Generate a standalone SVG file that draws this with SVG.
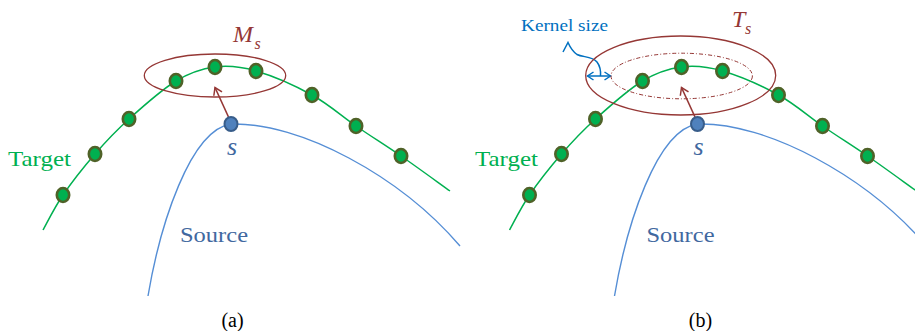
<svg xmlns="http://www.w3.org/2000/svg" width="915" height="331" viewBox="0 0 915 331">
<style>
.tgt{fill:none;stroke:#00b050;stroke-width:1.5}
.src{fill:none;stroke:#558ed5;stroke-width:1.4}
.dot{fill:#00b050;stroke:#4f6228;stroke-width:2.6}
.sdot{fill:#4f81bd;stroke:#385d8a;stroke-width:2}
.ell{fill:none;stroke:#953735;stroke-width:1.3}
.inner{fill:none;stroke:#953735;stroke-width:1;stroke-dasharray:4 2 1 2}
.arr{fill:none;stroke:#953735;stroke-width:1.6}
.serif{font-family:"Liberation Serif","Times New Roman",serif}
.green{fill:#00b050;font-size:21px}
.blue{fill:#41689f}
.red{fill:#953735;font-style:italic}
.cap{fill:#000;font-size:20px}
.kern{fill:none;stroke:#0070c0;stroke-width:1.5}
</style>
<defs>
<marker id="redhead" viewBox="-9 -6 11 12" refX="0" refY="0" markerWidth="11" markerHeight="12" markerUnits="userSpaceOnUse" orient="auto">
<path d="M-7,-4.5 L0,0 L-7,4.5" fill="none" stroke="#953735" stroke-width="1.5"/>
</marker>
<marker id="bluehead" viewBox="-8 -6 10 12" refX="0" refY="0" markerWidth="10" markerHeight="12" markerUnits="userSpaceOnUse" orient="auto-start-reverse">
<path d="M-6,-4 L0,0 L-6,4" fill="none" stroke="#0070c0" stroke-width="1.5"/>
</marker>
</defs>

<!-- Panel (a) -->
<g id="panel-a">
<g id="a-connectors">
<path id="a-target-curve" class="tgt" d="M43,230 C46.3,224.2 54.3,207.7 63,195 C71.7,182.3 84,166.7 95,154 C106,141.3 115.5,131.2 129,119 C142.5,106.8 161.7,89.7 176,81 C190.3,72.3 201.7,68.7 215,67 C228.3,65.3 239.8,66.3 256,71 C272.2,75.7 295.3,85.8 312,95 C328.7,104.2 341.2,115.8 356,126 C370.8,136.2 385.3,145.2 401,156 C416.7,166.8 441.8,185.2 450,191"/>
<path id="a-source-curve" class="src" d="M148,296 C160,225 190,130 231,124 C300,122 400,176 460,246"/>
<line id="a-arrow" class="arr" x1="228.5" y1="117" x2="215" y2="87.5" marker-end="url(#redhead)"/>
</g>
<g id="a-ms-region"><ellipse class="ell" cx="215" cy="75.5" rx="70.7" ry="21.5"/></g>
<g id="a-t1"><ellipse class="dot" cx="63" cy="195" rx="6.2" ry="7"/></g>
<g id="a-t2"><ellipse class="dot" cx="95" cy="154" rx="6.2" ry="7"/></g>
<g id="a-t3"><ellipse class="dot" cx="129" cy="119" rx="6.2" ry="7"/></g>
<g id="a-t4"><ellipse class="dot" cx="176" cy="81" rx="6.2" ry="7"/></g>
<g id="a-t5"><ellipse class="dot" cx="215" cy="67" rx="6.2" ry="7"/></g>
<g id="a-t6"><ellipse class="dot" cx="256" cy="71" rx="6.2" ry="7"/></g>
<g id="a-t7"><ellipse class="dot" cx="312" cy="95" rx="6.2" ry="7"/></g>
<g id="a-t8"><ellipse class="dot" cx="356" cy="126" rx="6.2" ry="7"/></g>
<g id="a-t9"><ellipse class="dot" cx="401" cy="156" rx="6.2" ry="7"/></g>
<g id="a-s"><ellipse class="sdot" cx="231" cy="124" rx="6.5" ry="7"/>
<text class="serif blue" x="227" y="155" font-size="26" font-style="italic">s</text></g>
<g id="a-ms-label"><text class="serif red" x="233" y="42" font-size="24">M<tspan font-size="16" x="254.5" y="49">s</tspan></text></g>
<text class="serif green" x="8" y="166" textLength="63" lengthAdjust="spacingAndGlyphs">Target</text>
<text class="serif blue" x="180" y="242" font-size="21.5" textLength="68" lengthAdjust="spacingAndGlyphs">Source</text>
<text class="serif cap" x="232.5" y="327" text-anchor="middle">(a)</text>
</g>

<!-- Panel (b) -->
<g id="panel-b">
<g id="b-connectors">
<path id="b-target-curve" class="tgt" transform="translate(466.5 0)" d="M43,230 C46.3,224.2 54.3,207.7 63,195 C71.7,182.3 84,166.7 95,154 C106,141.3 115.5,131.2 129,119 C142.5,106.8 161.7,89.7 176,81 C190.3,72.3 201.7,68.7 215,67 C228.3,65.3 239.8,66.3 256,71 C272.2,75.7 295.3,85.8 312,95 C328.7,104.2 341.2,115.8 356,126 C370.8,136.2 385.3,145.2 401,156 C416.7,166.8 441.8,185.2 450,191"/>
<path id="b-source-curve" class="src" transform="translate(466.5 0)" d="M148,296 C160,225 190,130 231,124 C300,122 400,176 460,246"/>
<line id="b-arrow" class="arr" x1="695" y1="117" x2="681.5" y2="87.5" marker-end="url(#redhead)"/>
<line id="b-kernel-arrow" class="kern" x1="587.5" y1="76" x2="610.5" y2="76" marker-start="url(#bluehead)" marker-end="url(#bluehead)"/>
<path id="b-kernel-callout" class="kern" d="M563,52 L568,42.5 C570,47 572,51 577,54.5 C583,57.5 592,56 597,62 C600,66 601,70 600.5,76"/>
</g>
<g id="b-ts-region"><ellipse class="ell" cx="680.7" cy="75.5" rx="95" ry="39.5"/></g>
<g id="b-kernel-region"><ellipse class="inner" cx="681.7" cy="76" rx="70.7" ry="22.8"/></g>
<g transform="translate(466.5 0)">
<g id="b-t1"><ellipse class="dot" cx="63" cy="195" rx="6.2" ry="7"/></g>
<g id="b-t2"><ellipse class="dot" cx="95" cy="154" rx="6.2" ry="7"/></g>
<g id="b-t3"><ellipse class="dot" cx="129" cy="119" rx="6.2" ry="7"/></g>
<g id="b-t4"><ellipse class="dot" cx="176" cy="81" rx="6.2" ry="7"/></g>
<g id="b-t5"><ellipse class="dot" cx="215" cy="67" rx="6.2" ry="7"/></g>
<g id="b-t6"><ellipse class="dot" cx="256" cy="71" rx="6.2" ry="7"/></g>
<g id="b-t7"><ellipse class="dot" cx="312" cy="95" rx="6.2" ry="7"/></g>
<g id="b-t8"><ellipse class="dot" cx="356" cy="126" rx="6.2" ry="7"/></g>
<g id="b-t9"><ellipse class="dot" cx="401" cy="156" rx="6.2" ry="7"/></g>
<g id="b-s"><ellipse class="sdot" cx="231" cy="124" rx="6.5" ry="7"/>
<text class="serif blue" x="227" y="155" font-size="26" font-style="italic">s</text></g>
<text class="serif green" x="8.5" y="166" textLength="63" lengthAdjust="spacingAndGlyphs">Target</text>
<text class="serif blue" x="180" y="242" font-size="21.5" textLength="68" lengthAdjust="spacingAndGlyphs">Source</text>
</g>
<g id="b-ts-label"><text class="serif red" x="732" y="27" font-size="24">T<tspan font-size="16" x="745" y="34">s</tspan></text></g>
<g id="b-kernel-label"><text class="serif" x="521" y="31" font-size="16" fill="#0070c0" textLength="87" lengthAdjust="spacingAndGlyphs">Kernel size</text></g>
<text class="serif cap" x="700.5" y="327" text-anchor="middle">(b)</text>
</g>
</svg>
